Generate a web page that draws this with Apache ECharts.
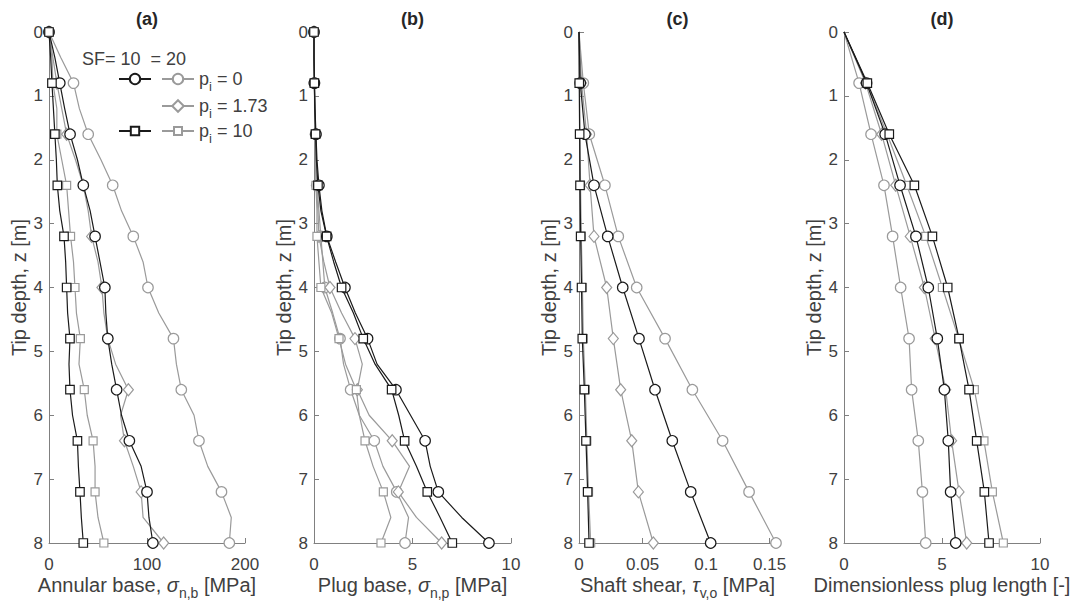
<!DOCTYPE html>
<html><head><meta charset="utf-8">
<script src="https://cdn.jsdelivr.net/npm/echarts@6.0.0/dist/echarts.min.js"></script>
<style>html,body{margin:0;padding:0;background:#fff}#c{width:1075px;height:604px}</style>
</head><body><div id="c"></div>
<script>
// ---------- data ----------
const depthFine   = [0,0.4,0.8,1.2,1.6,2.0,2.4,2.8,3.2,3.6,4.0,4.4,4.8,5.2,5.6,6.0,6.4,6.8,7.2,7.6,8.0];
const depthCoarse = [0,0.8,1.6,2.4,3.2,4.0,4.8,5.6,6.4,7.2,8.0];

// (a) Annular base stress [MPa] (depthFine)
const annSF10p0   = [0,6,11,16,21.5,29,35,42,47,52,57,58,60,64,69,74,82,94,100,102,106];
const annSF20p0   = [0,12,25,31,40,53,65,74,86,96,101,112,127,130,135,148,153,162,176,186,184];
const annSF20p173 = [0,4,8,13,18,27,35,40,43.5,50,54,56,60,68,81,73,77,86,94,96,117];
const annSF10p10  = [0,1.7,3,4.5,6,7.5,8.5,11,15.3,17,18,19,21.4,20.4,21.4,24,29,30,31.6,33,35];
const annSF20p10  = [0,3,4,8,8,13,18,20,22,25,26.5,28,32,30.6,36,39,45,47,47,50,56];

// (b) Plug base stress [MPa] (depthFine)
const plugSF10p0   = [0,0,0.02,0.05,0.1,0.15,0.25,0.4,0.65,1.1,1.57,2.1,2.72,3.2,4.16,4.9,5.64,5.9,6.31,7.5,8.88];
const plugSF20p0   = [0,0,0.02,0.04,0.08,0.1,0.15,0.25,0.35,0.45,0.55,0.95,1.32,1.5,1.86,2.3,3.06,3.5,4.2,4.8,4.62];
const plugSF20p173 = [0,0,0.02,0.04,0.06,0.08,0.12,0.2,0.25,0.5,0.81,1.4,2.08,2.45,2.2,2.8,3.97,4.85,4.28,5.2,6.48];
const plugSF10p10  = [0,0,0.02,0.04,0.08,0.12,0.2,0.35,0.64,1.0,1.4,2.0,2.5,3.1,3.94,4.3,4.6,5.2,5.75,6.4,7.02];
const plugSF20p10  = [0,0,0.02,0.03,0.05,0.07,0.1,0.15,0.15,0.25,0.35,0.9,1.27,1.6,2.15,2.3,2.59,3.0,3.52,3.9,3.4];

// (c) Shaft shear [MPa] (depthCoarse)
const shearSF10p0   = [0,0.001,0.0047,0.0118,0.0226,0.0344,0.0472,0.0598,0.0734,0.0879,0.1036];
const shearSF20p0   = [0,0.0034,0.0081,0.0204,0.0309,0.0454,0.0677,0.0892,0.113,0.1338,0.155];
const shearSF20p173 = [0,0.002,0.006,0.0087,0.0118,0.0218,0.027,0.0328,0.0415,0.0467,0.0585];
const shearSF10p10  = [0,0.0002,0.0005,0.0008,0.0013,0.002,0.0026,0.0042,0.0055,0.0068,0.0079];
const shearSF20p10  = [0,0.0004,0.0008,0.0012,0.0018,0.0027,0.0034,0.005,0.0062,0.0075,0.0092];

// (d) Dimensionless plug length [-] (depthCoarse)
const lenSF10p0   = [0,1.15,2.1,2.86,3.67,4.3,4.76,5.12,5.32,5.44,5.7];
const lenSF20p0   = [0,0.77,1.38,2.04,2.48,2.89,3.32,3.45,3.79,4.0,4.17];
const lenSF20p173 = [0,1.1,1.92,2.64,3.38,4.1,4.65,5.19,5.49,5.87,6.26];
const lenSF10p10  = [0,1.19,2.31,3.59,4.51,5.29,5.87,6.38,6.77,7.16,7.40];
const lenSF20p10  = [0,1.15,2.2,3.2,4.17,5.02,5.85,6.65,7.14,7.57,8.13];

const panelTitles = ['(a)','(b)','(c)','(d)'];
const xMax      = [200, 10, 0.155, 10];
const xInterval = [100, 5, 0.05, 5];
const yTicks    = [0,1,2,3,4,5,6,7,8];
const sfHeader  = 'SF= 10  = 20';
const piLabels  = ['0','1.73','10'];
const seriesNames = ['SF20 p0','SF20 p1.73','SF20 p10','SF10 p0','SF10 p10'];

// ---------- styling ----------
const FONT = "'Liberation Sans', Arial, Helvetica, sans-serif";
const TXT = '#404040';
const AX = '#808080';
const BLACK = '#1a1a1a';
const GRAY = '#9a9a9a';
const grids = [
  {left:49,  top:32, width:196, height:511},
  {left:314, top:32, width:197, height:511},
  {left:579, top:32, width:197, height:511},
  {left:844, top:32, width:196, height:511}
];
const styles = {
  'SF20 p0':    {c:GRAY,  sym:'circle',  size:10.5},
  'SF20 p1.73': {c:GRAY,  sym:'diamond', size:[10,12]},
  'SF20 p10':   {c:GRAY,  sym:'rect',    size:8},
  'SF10 p0':    {c:BLACK, sym:'circle',  size:10.5},
  'SF10 p10':   {c:BLACK, sym:'rect',    size:8.5}
};
const panels = [
  {depth:depthFine,   markZero:true,  vals:[annSF20p0, annSF20p173, annSF20p10, annSF10p0, annSF10p10],
   name:'{b|Annular base, }{g|σ}{s|n,b}{b| [MPa]}'},
  {depth:depthFine,   markZero:true,  vals:[plugSF20p0, plugSF20p173, plugSF20p10, plugSF10p0, plugSF10p10],
   name:'{b|Plug base, }{g|σ}{s|n,p}{b| [MPa]}'},
  {depth:depthCoarse, markZero:false, vals:[shearSF20p0, shearSF20p173, shearSF20p10, shearSF10p0, shearSF10p10],
   name:'{b|Shaft shear, }{g|τ}{s|v,o}{b| [MPa]}'},
  {depth:depthCoarse, markZero:false, vals:[lenSF20p0, lenSF20p173, lenSF20p10, lenSF10p0, lenSF10p10],
   name:'{b|Dimensionless plug length [-]}'}
];
const nameRich = {
  b:{fontSize:20, lineHeight:30, color:TXT, fontFamily:FONT},
  g:{fontSize:20, lineHeight:30, color:TXT, fontFamily:FONT, fontStyle:'italic'},
  s:{fontSize:14, lineHeight:15, color:TXT, fontFamily:FONT, verticalAlign:'bottom'}
};

function isMarker(z, markZero){
  const k = z/0.8;
  return Math.abs(k - Math.round(k)) < 1e-6 && (markZero || z > 0);
}

const xAxes = [], yAxes = [], series = [];
panels.forEach((p, gi) => {
  xAxes.push({
    type:'value', gridIndex:gi, min:0, max:xMax[gi], interval:xInterval[gi],
    name:p.name, nameLocation:'middle', nameGap:27, nameMoveOverlap:false,
    nameTextStyle:{rich:nameRich, fontSize:20, color:TXT, fontFamily:FONT},
    axisLine:{show:true, onZero:false, lineStyle:{color:AX, width:1}},
    axisTick:{show:true, inside:true, length:5, lineStyle:{color:AX}},
    splitLine:{show:false},
    axisLabel:{color:TXT, fontSize:17, fontFamily:FONT, margin:13, showMaxLabel: gi!==2,
      formatter: v => String(+v.toFixed(3))}
  });
  yAxes.push({
    type:'value', gridIndex:gi, min:yTicks[0], max:yTicks[yTicks.length-1], interval:1, inverse:true,
    name:'Tip depth, z [m]', nameLocation:'middle', nameGap:20, nameMoveOverlap:false,
    nameTextStyle:{fontSize:20, color:TXT, fontFamily:FONT},
    axisLine:{show:true, onZero:false, lineStyle:{color:AX, width:1}},
    axisTick:{show:true, inside:true, length:5, lineStyle:{color:AX}},
    splitLine:{show:false},
    axisLabel:{color:TXT, fontSize:17, fontFamily:FONT, margin:6}
  });
  seriesNames.forEach((nm, si) => {
    const st = styles[nm];
    const xs = p.vals[si];
    series.push({
      type:'line', name:nm, xAxisIndex:gi, yAxisIndex:gi,
      data: xs.map((v,i) => [v, p.depth[i]]),
      symbol: st.sym, showAllSymbol:true, clip:false,
      symbolSize: (val) => isMarker(val[1], p.markZero) ? st.size : 0,
      lineStyle:{color:st.c, width:1.2},
      itemStyle:{color:'#ffffff', borderColor:st.c, borderWidth:1.2},
      emphasis:{disabled:true}, animation:false, z: st.c===BLACK ? 3 : 2
    });
  });
});

const legRich = {
  b:{fontSize:18, lineHeight:28, color:TXT, fontFamily:FONT},
  s:{fontSize:13, lineHeight:14, color:TXT, fontFamily:FONT, verticalAlign:'bottom'}
};
const legendDefs = [
  {name:'SF10 p0',    left:118, top:70,  h:13,   lab:null},
  {name:'SF20 p0',    left:161, top:70,  h:13,   lab:piLabels[0]},
  {name:'SF20 p1.73', left:161, top:97,  h:14.5, lab:piLabels[1]},
  {name:'SF10 p10',   left:118, top:122, h:10.5, lab:null},
  {name:'SF20 p10',   left:161, top:122, h:10,   lab:piLabels[2]}
];
const legends = legendDefs.map(d => ({
  data:[d.name], left:d.left, top:d.top, orient:'horizontal', padding:0,
  itemWidth:32, itemHeight:d.h, itemGap:0, selectedMode:false,
  formatter: () => d.lab === null ? '{b| }' : '{b|p}{s|i}{b| = ' + d.lab + '}',
  textStyle:{rich:legRich, fontSize:18, color:TXT, fontFamily:FONT}
}));

const graphics = panelTitles.map((t, i) => ({
  type:'text', x: grids[i].left + grids[i].width/2, y: 19, silent:true,
  style:{text:t, align:'center', verticalAlign:'middle', fill:'#262626',
    font:"bold 18px 'Liberation Sans', Arial, sans-serif"}
}));
graphics.push({
  type:'text', x:82, y:59, silent:true,
  style:{text:sfHeader, align:'left', verticalAlign:'middle', fill:TXT,
    font:"18px 'Liberation Sans', Arial, sans-serif"}
});

const chart = echarts.init(document.getElementById('c'), null, {renderer:'svg'});
chart.setOption({
  backgroundColor:'#ffffff',
  animation:false,
  textStyle:{fontFamily:FONT},
  grid: grids.map(g => Object.assign({containLabel:false, outerBoundsMode:'none'}, g)),
  xAxis:xAxes, yAxis:yAxes, series:series, legend:legends, graphic:graphics,
  tooltip:{show:false}
});
</script></body></html>
